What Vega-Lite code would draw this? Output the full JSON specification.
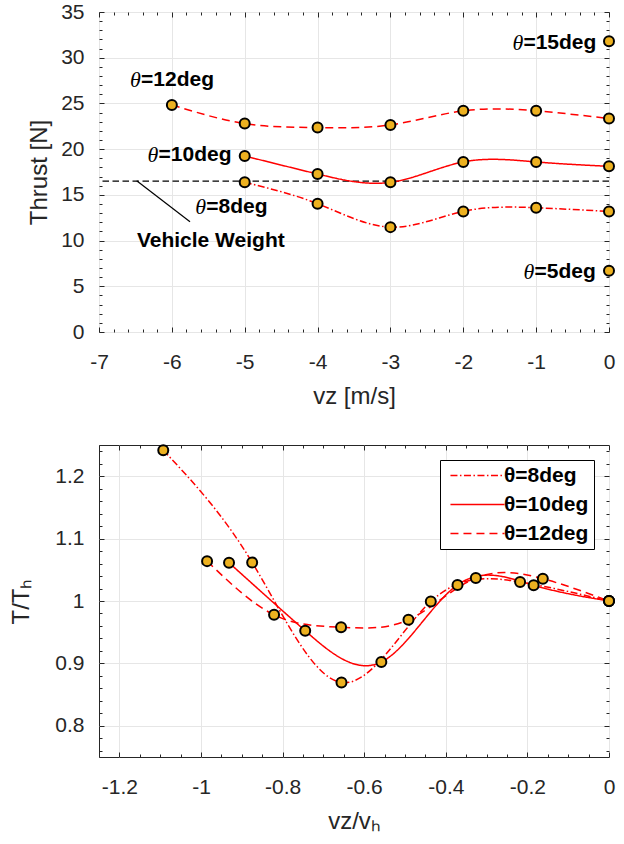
{
  "$schema": "https://vega.github.io/schema/vega-lite/v6.json",
  "autosize": {"type": "none"},
  "padding": {"left": 99, "top": 12, "right": 525, "bottom": 832},
  "background": "white",
  "config": {
    "view": {"stroke": "#262626", "strokeWidth": 1},
    "axis": {
      "labelFont": "Liberation Sans", "labelFontSize": 21, "labelColor": "#262626",
      "titleFont": "Liberation Sans", "titleFontSize": 24, "titleFontWeight": "normal", "titleColor": "#262626",
      "domain": false, "tickColor": "#262626", "tickWidth": 1,
      "gridColor": "#e6e6e6", "gridWidth": 1, "labelFlush": false, "labelOverlap": false
    }
  },
  "datasets": {
    "thrust": [
      {"theta": "θ=8deg", "vz": -5, "T": 16.37},
      {"theta": "θ=8deg", "vz": -4, "T": 14.03},
      {"theta": "θ=8deg", "vz": -3, "T": 11.47},
      {"theta": "θ=8deg", "vz": -2, "T": 13.19},
      {"theta": "θ=8deg", "vz": -1, "T": 13.59},
      {"theta": "θ=8deg", "vz": 0, "T": 13.19},
      {"theta": "θ=10deg", "vz": -5, "T": 19.25},
      {"theta": "θ=10deg", "vz": -4, "T": 17.28},
      {"theta": "θ=10deg", "vz": -3, "T": 16.37},
      {"theta": "θ=10deg", "vz": -2, "T": 18.6},
      {"theta": "θ=10deg", "vz": -1, "T": 18.6},
      {"theta": "θ=10deg", "vz": 0, "T": 18.12},
      {"theta": "θ=12deg", "vz": -6, "T": 24.84},
      {"theta": "θ=12deg", "vz": -5, "T": 22.8},
      {"theta": "θ=12deg", "vz": -4, "T": 22.36},
      {"theta": "θ=12deg", "vz": -3, "T": 22.65},
      {"theta": "θ=12deg", "vz": -2, "T": 24.19},
      {"theta": "θ=12deg", "vz": -1, "T": 24.19},
      {"theta": "θ=12deg", "vz": 0, "T": 23.35},
      {"theta": "θ=15deg", "vz": 0, "T": 31.79},
      {"theta": "θ=5deg", "vz": 0, "T": 6.69}
    ],
    "labels": [
      {"x": -1.326, "y": 31.6, "rest": "=15deg"},
      {"x": -6.574, "y": 27.51, "rest": "=12deg"},
      {"x": -6.334, "y": 19.4, "rest": "=10deg"},
      {"x": -5.678, "y": 13.63, "rest": "=8deg"},
      {"x": -1.173, "y": 6.57, "rest": "=5deg"}
    ],
    "weight": [{"x": -6.48, "y": 9.9, "text": "Vehicle Weight", "w": 16.5, "x1": -6.483, "y1": 16.55, "x2": -5.751, "y2": 12.06}],
    "norm": [
      {"theta": "θ=8deg", "r": -1.0925, "t": 1.2417},
      {"theta": "θ=8deg", "r": -0.8746, "t": 1.0618},
      {"theta": "θ=8deg", "r": -0.6557, "t": 0.8694},
      {"theta": "θ=8deg", "r": -0.4368, "t": 0.9992},
      {"theta": "θ=8deg", "r": -0.2179, "t": 1.0305},
      {"theta": "θ=8deg", "r": 0, "t": 1.0},
      {"theta": "θ=10deg", "r": -0.9313, "t": 1.0613},
      {"theta": "θ=10deg", "r": -0.7446, "t": 0.9523},
      {"theta": "θ=10deg", "r": -0.558, "t": 0.9022},
      {"theta": "θ=10deg", "r": -0.3713, "t": 1.0258},
      {"theta": "θ=10deg", "r": -0.1847, "t": 1.0253},
      {"theta": "θ=10deg", "r": 0, "t": 1.0},
      {"theta": "θ=12deg", "r": -0.9851, "t": 1.0639},
      {"theta": "θ=12deg", "r": -0.8209, "t": 0.9778},
      {"theta": "θ=12deg", "r": -0.6567, "t": 0.958},
      {"theta": "θ=12deg", "r": -0.4915, "t": 0.97},
      {"theta": "θ=12deg", "r": -0.3264, "t": 1.0368},
      {"theta": "θ=12deg", "r": -0.1622, "t": 1.0357},
      {"theta": "θ=12deg", "r": 0, "t": 1.0}
    ]
  },
  "vconcat": [
    {
      "width": 510,
      "height": 320,
      "data": {"name": "thrust"},
      "layer": [
        {
          "data": {"name": "weight"},
          "mark": {"type": "rule", "color": "black", "strokeWidth": 1.3, "strokeDash": [6.5, 3.5]},
          "encoding": {
            "y": {"field": "w", "type": "quantitative", "axis": null}
          }
        },
        {
          "transform": [{"filter": {"field": "theta", "oneOf": ["θ=8deg", "θ=10deg", "θ=12deg"]}}],
          "mark": {"type": "line", "interpolate": "natural", "color": "#ff0000", "strokeWidth": 1.5},
          "encoding": {
            "x": {
              "field": "vz", "type": "quantitative",
              "scale": {"domain": [-7, 0], "nice": false, "zero": false},
              "axis": {
                "orient": "bottom", "title": "vz [m/s]", "titlePadding": 10,
                "values": [-7,-6.8,-6.6,-6.4,-6.2,-6,-5.8,-5.6,-5.4,-5.2,-5,-4.8,-4.6,-4.4,-4.2,-4,-3.8,-3.6,-3.4,-3.2,-3,-2.8,-2.6,-2.4,-2.2,-2,-1.8,-1.6,-1.4,-1.2,-1,-0.8,-0.6,-0.4,-0.2,0],
                "labelExpr": "abs(datum.value - round(datum.value)) < 1e-6 ? '' + round(datum.value) : ''",
                "labelPadding": 24,
                "tickSize": {"condition": {"test": "abs(datum.value - round(datum.value)) < 1e-6", "value": -5}, "value": -3},
                "grid": true,
                "gridOpacity": {"condition": {"test": "abs(datum.value - round(datum.value)) < 1e-6", "value": 1}, "value": 0}
              }
            },
            "y": {
              "field": "T", "type": "quantitative",
              "scale": {"domain": [0, 35], "nice": false, "zero": false},
              "axis": {
                "orient": "left", "title": "Thrust [N]", "titlePadding": 9,
                "values": [0,1,2,3,4,5,6,7,8,9,10,11,12,13,14,15,16,17,18,19,20,21,22,23,24,25,26,27,28,29,30,31,32,33,34,35],
                "labelExpr": "datum.value % 5 == 0 ? '' + datum.value : ''",
                "labelPadding": 20,
                "tickSize": {"condition": {"test": "datum.value % 5 == 0", "value": -5}, "value": -3},
                "grid": true,
                "gridOpacity": {"condition": {"test": "datum.value % 5 == 0", "value": 1}, "value": 0}
              }
            },
            "strokeDash": {
              "field": "theta", "type": "nominal",
              "scale": {"domain": ["θ=8deg", "θ=10deg", "θ=12deg"], "range": [[7, 2.5, 1.5, 2.5], [1, 0], [8, 5]]},
              "legend": null
            }
          }
        },
        {
          "data": {"name": "weight"},
          "mark": {"type": "rule", "color": "black", "strokeWidth": 1.2},
          "encoding": {
            "x": {"field": "x1", "type": "quantitative", "axis": null},
            "y": {"field": "y1", "type": "quantitative", "axis": null},
            "x2": {"field": "x2"},
            "y2": {"field": "y2"}
          }
        },
        {
          "mark": {"type": "circle", "fill": "#EDB120", "stroke": "black", "strokeWidth": 2, "size": 100, "opacity": 1},
          "encoding": {
            "x": {
              "field": "vz", "type": "quantitative",
              "axis": {
                "orient": "top", "title": null, "labels": false, "grid": false,
                "values": [-7,-6.8,-6.6,-6.4,-6.2,-6,-5.8,-5.6,-5.4,-5.2,-5,-4.8,-4.6,-4.4,-4.2,-4,-3.8,-3.6,-3.4,-3.2,-3,-2.8,-2.6,-2.4,-2.2,-2,-1.8,-1.6,-1.4,-1.2,-1,-0.8,-0.6,-0.4,-0.2,0],
                "tickSize": {"condition": {"test": "abs(datum.value - round(datum.value)) < 1e-6", "value": -5}, "value": -3}
              }
            },
            "y": {
              "field": "T", "type": "quantitative",
              "axis": {
                "orient": "right", "title": null, "labels": false, "grid": false,
                "values": [0,1,2,3,4,5,6,7,8,9,10,11,12,13,14,15,16,17,18,19,20,21,22,23,24,25,26,27,28,29,30,31,32,33,34,35],
                "tickSize": {"condition": {"test": "datum.value % 5 == 0", "value": -5}, "value": -3}
              }
            }
          }
        },
        {
          "data": {"name": "labels"},
          "mark": {"type": "text", "font": "Liberation Serif", "fontStyle": "italic", "fontSize": 22, "align": "left", "baseline": "middle", "color": "black"},
          "encoding": {
            "x": {"field": "x", "type": "quantitative", "axis": null},
            "y": {"field": "y", "type": "quantitative", "axis": null},
            "text": {"value": "θ"}
          }
        },
        {
          "data": {"name": "labels"},
          "mark": {"type": "text", "font": "Liberation Sans", "fontWeight": "bold", "fontSize": 21, "align": "left", "baseline": "middle", "color": "black", "dx": 11},
          "encoding": {
            "x": {"field": "x", "type": "quantitative", "axis": null},
            "y": {"field": "y", "type": "quantitative", "axis": null},
            "text": {"field": "rest"}
          }
        },
        {
          "data": {"name": "weight"},
          "mark": {"type": "text", "font": "Liberation Sans", "fontWeight": "bold", "fontSize": 21, "align": "left", "baseline": "middle", "color": "black"},
          "encoding": {
            "x": {"field": "x", "type": "quantitative", "axis": null},
            "y": {"field": "y", "type": "quantitative", "axis": null},
            "text": {"field": "text"}
          }
        }
      ],
      "resolve": {"axis": {"x": "independent", "y": "independent"}}
    },
    {
      "width": 510,
      "height": 312,
      "data": {"name": "norm"},
      "layer": [
        {
          "mark": {"type": "line", "interpolate": "natural", "color": "#ff0000", "strokeWidth": 1.5},
          "encoding": {
            "x": {
              "field": "r", "type": "quantitative",
              "scale": {"domain": [-1.25, 0], "nice": false, "zero": false},
              "axis": {
                "orient": "bottom", "title": "vz/vₕ", "titlePadding": 10,
                "values": [-1.25,-1.2,-1.15,-1.1,-1.05,-1,-0.95,-0.9,-0.85,-0.8,-0.75,-0.7,-0.65,-0.6,-0.55,-0.5,-0.45,-0.4,-0.35,-0.3,-0.25,-0.2,-0.15,-0.1,-0.05,0],
                "labelExpr": "abs(datum.value * 5 - round(datum.value * 5)) < 1e-6 ? '' + datum.value : ''",
                "labelPadding": 24,
                "tickSize": {"condition": {"test": "abs(datum.value * 5 - round(datum.value * 5)) < 1e-6", "value": -5}, "value": -3},
                "grid": true,
                "gridOpacity": {"condition": {"test": "abs(datum.value * 5 - round(datum.value * 5)) < 1e-6", "value": 1}, "value": 0}
              }
            },
            "y": {
              "field": "t", "type": "quantitative",
              "scale": {"domain": [0.75, 1.25], "nice": false, "zero": false},
              "axis": {
                "orient": "left", "title": "T/Tₕ", "titlePadding": 21,
                "values": [0.76,0.78,0.8,0.82,0.84,0.86,0.88,0.9,0.92,0.94,0.96,0.98,1,1.02,1.04,1.06,1.08,1.1,1.12,1.14,1.16,1.18,1.2,1.22,1.24],
                "labelExpr": "abs(datum.value * 10 - round(datum.value * 10)) < 1e-6 ? '' + datum.value : ''",
                "labelPadding": 20,
                "tickSize": {"condition": {"test": "abs(datum.value * 10 - round(datum.value * 10)) < 1e-6", "value": -5}, "value": -3},
                "grid": true,
                "gridOpacity": {"condition": {"test": "abs(datum.value * 10 - round(datum.value * 10)) < 1e-6", "value": 1}, "value": 0}
              }
            },
            "strokeDash": {
              "field": "theta", "type": "nominal",
              "scale": {"domain": ["θ=8deg", "θ=10deg", "θ=12deg"], "range": [[7, 2.5, 1.5, 2.5], [1, 0], [8, 5]]},
              "legend": {
                "orient": "top-right", "offset": 15, "title": null,
                "symbolType": "M-5,0H5", "symbolSize": 117, "symbolStrokeWidth": 1.5, "symbolStrokeColor": "#ff0000",
                "symbolOffset": 22,
                "labelFont": "Liberation Sans", "labelFontWeight": "bold", "labelFontSize": 21, "labelColor": "black",
                "strokeColor": "black", "fillColor": "white", "padding": 5, "rowPadding": 7, "labelOffset": 16
              }
            }
          }
        },
        {
          "mark": {"type": "circle", "fill": "#EDB120", "stroke": "black", "strokeWidth": 2, "size": 100, "opacity": 1},
          "encoding": {
            "x": {
              "field": "r", "type": "quantitative",
              "axis": {
                "orient": "top", "title": null, "labels": false, "grid": false,
                "values": [-1.25,-1.2,-1.15,-1.1,-1.05,-1,-0.95,-0.9,-0.85,-0.8,-0.75,-0.7,-0.65,-0.6,-0.55,-0.5,-0.45,-0.4,-0.35,-0.3,-0.25,-0.2,-0.15,-0.1,-0.05,0],
                "tickSize": {"condition": {"test": "abs(datum.value * 5 - round(datum.value * 5)) < 1e-6", "value": -5}, "value": -3}
              }
            },
            "y": {
              "field": "t", "type": "quantitative",
              "axis": {
                "orient": "right", "title": null, "labels": false, "grid": false,
                "values": [0.76,0.78,0.8,0.82,0.84,0.86,0.88,0.9,0.92,0.94,0.96,0.98,1,1.02,1.04,1.06,1.08,1.1,1.12,1.14,1.16,1.18,1.2,1.22,1.24],
                "tickSize": {"condition": {"test": "abs(datum.value * 10 - round(datum.value * 10)) < 1e-6", "value": -5}, "value": -3}
              }
            }
          }
        }
      ],
      "resolve": {"axis": {"x": "independent", "y": "independent"}}
    }
  ],
  "resolve": {"scale": {"strokeDash": "independent"}, "legend": {"strokeDash": "independent"}},
  "spacing": 113,
  "bounds": "flush"
}
